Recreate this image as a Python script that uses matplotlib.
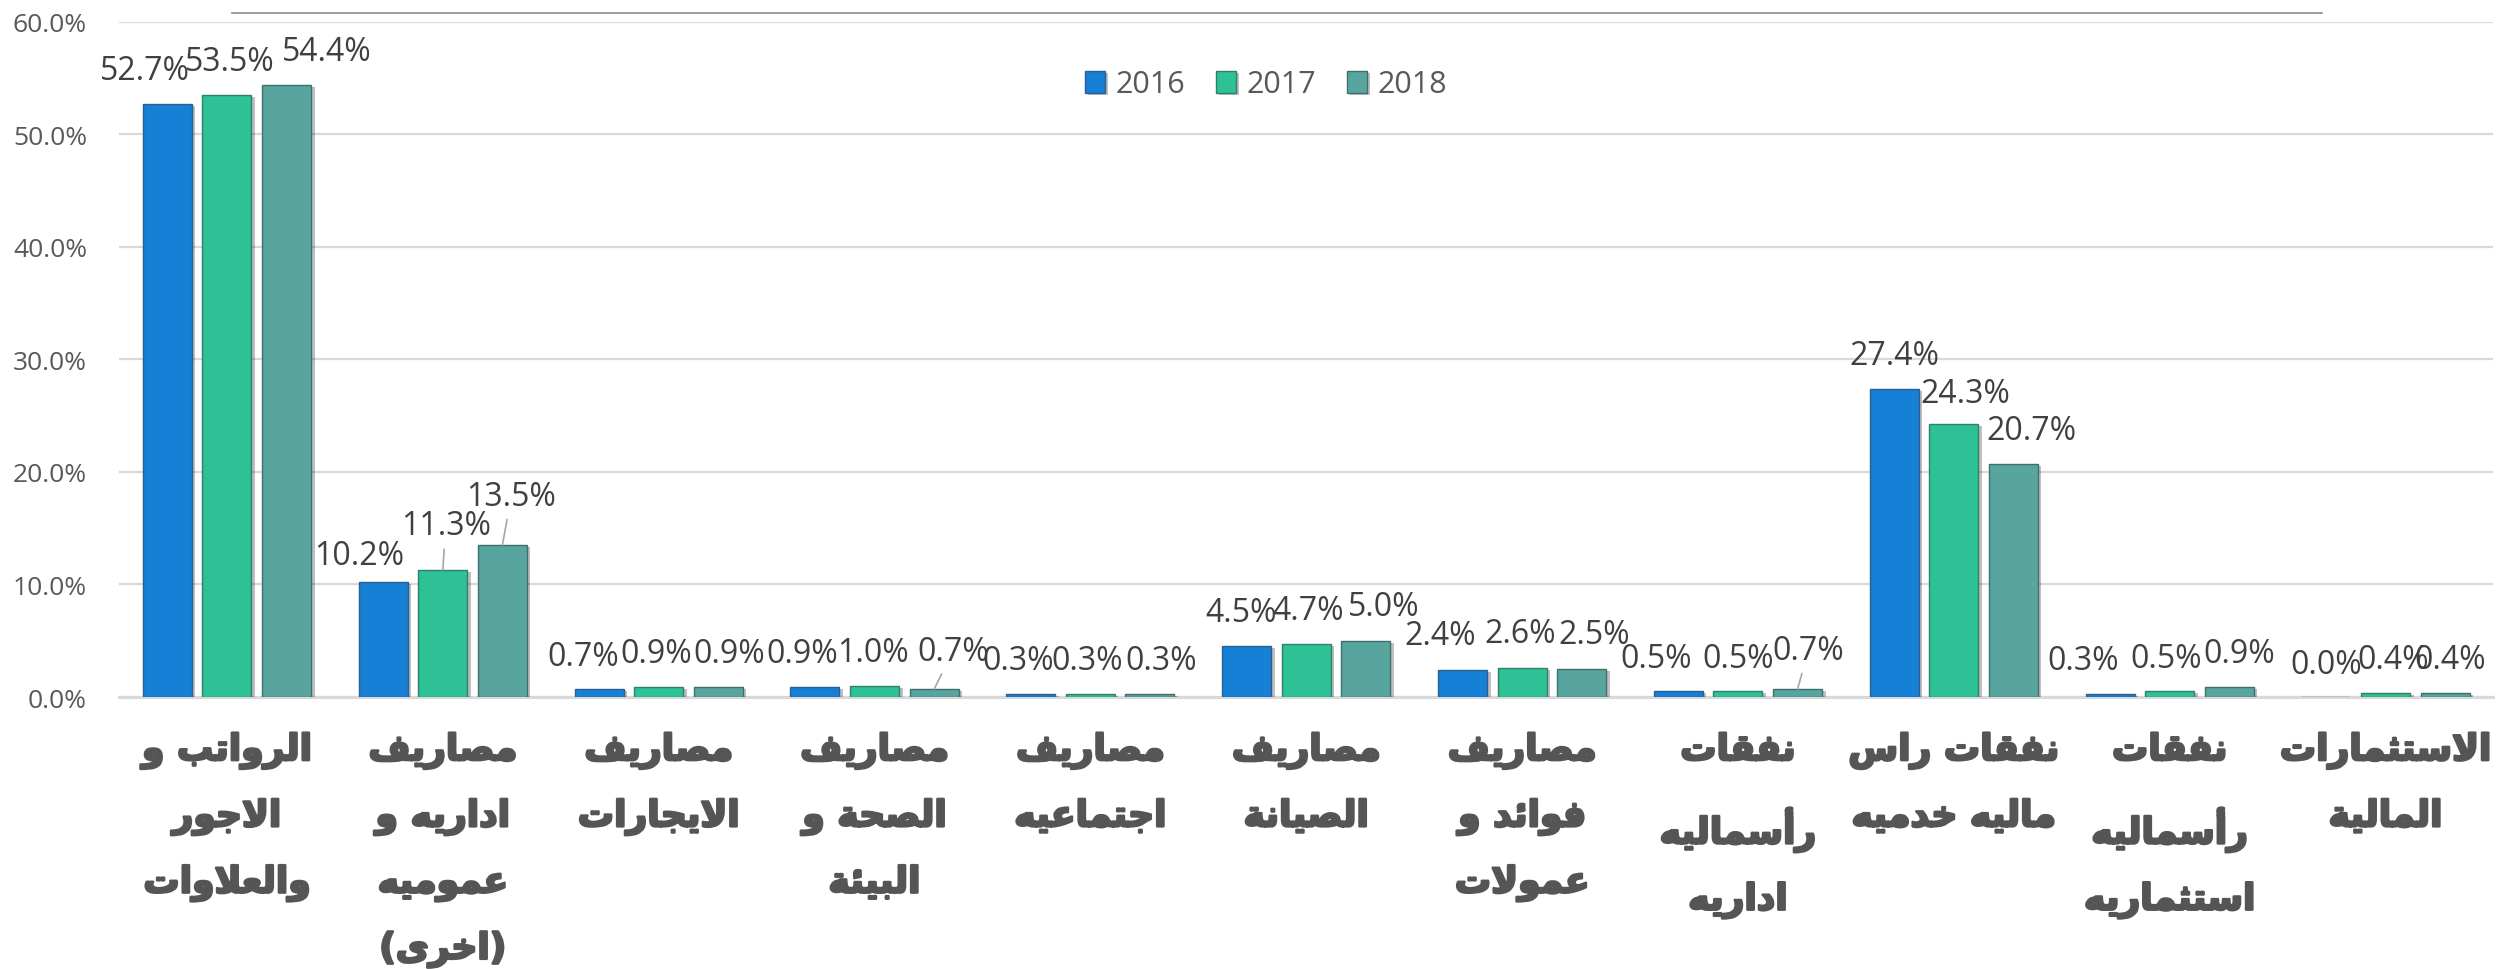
import numpy as np
import matplotlib
matplotlib.use("Agg")
import matplotlib.pyplot as plt
from matplotlib.lines import Line2D
from matplotlib import patheffects as pe

# ---- data -------------------------------------------------------------
categories = [
    "الرواتب و\nالاجور\nوالعلاوات",
    "مصاريف\nاداريه و\nعموميه\n(اخرى)",
    "مصاريف\nالايجارات",
    "مصاريف\nالصحة و\nالبيئة",
    "مصاريف\nاجتماعيه",
    "مصاريف\nالصيانة",
    "مصاريف\nفوائد و\nعمولات",
    "نفقات\nرأسماليه\nاداريه",
    "نفقات راس\nماليه خدميه",
    "نفقات\nرأسماليه\nاستثماريه",
    "الاستثمارات\nالمالية",
]
years = ["2016", "2017", "2018"]
share_2016 = [52.7, 10.2, 0.7, 0.9, 0.3, 4.5, 2.4, 0.5, 27.4, 0.3, 0.0]
share_2017 = [53.5, 11.3, 0.9, 1.0, 0.3, 4.7, 2.6, 0.5, 24.3, 0.5, 0.4]
share_2018 = [54.4, 13.5, 0.9, 0.7, 0.3, 5.0, 2.5, 0.7, 20.7, 0.9, 0.4]
yticks = [0, 10, 20, 30, 40, 50, 60]

# label placement (pixels, relative to bar top) as laid out in the original
label_dx = [
    [-22, -24, -16, -13, -13, -6, -22, -22, 0, -27, 0],
    [3, 3, -2, -2, -3, 2, -2, 0, 11, -3, 8],
    [40, 9, 11, 19, 11, 18, 13, 11, 18, 10, 5],
]
label_dy = [
    [33, 27, 33, 33, 33, 34, 34, 33, 33, 33, 33],
    [33, 44, 33, 33, 33, 34, 34, 33, 30, 33, 33],
    [33, 49, 33, 38, 33, 34, 34, 39, 34, 33, 33],
]
leaders = [(1, 1), (2, 1), (2, 3), (2, 7)]

colors = ["#1580d6", "#2ec196", "#58a49e"]
edges = ["#2a5f8f", "#2f7f6a", "#3f6f6b"]


# ---- minimal arabic shaping (presentation forms + visual order) --------
dual = {"ئ": 0xFE89, "ب": 0xFE8F, "ت": 0xFE95, "ث": 0xFE99, "ج": 0xFE9D,
        "ح": 0xFEA1, "خ": 0xFEA5, "س": 0xFEB1, "ش": 0xFEB5, "ص": 0xFEB9,
        "ض": 0xFEBD, "ط": 0xFEC1, "ظ": 0xFEC5, "ع": 0xFEC9, "غ": 0xFECD,
        "ف": 0xFED1, "ق": 0xFED5, "ك": 0xFED9, "ل": 0xFEDD, "م": 0xFEE1,
        "ن": 0xFEE5, "ه": 0xFEE9, "ي": 0xFEF1}
right = {"آ": 0xFE81, "أ": 0xFE83, "ؤ": 0xFE85, "إ": 0xFE87, "ا": 0xFE8D,
         "ة": 0xFE93, "د": 0xFEA9, "ذ": 0xFEAB, "ر": 0xFEAD, "ز": 0xFEAF,
         "و": 0xFEED, "ى": 0xFEEF}
lamalef = {"ا": 0xFEFB, "أ": 0xFEF7, "إ": 0xFEF9, "آ": 0xFEF5}


def shape_line(s):
    units = []
    i = 0
    while i < len(s):
        if s[i] == "ل" and i + 1 < len(s) and s[i + 1] in lamalef:
            units.append(("LA", s[i + 1]))
            i += 2
        else:
            units.append(("C", s[i]))
            i += 1

    def joins_next(u):
        return u[0] == "C" and u[1] in dual

    def joins_prev(u):
        return u[0] == "LA" or u[1] in dual or u[1] in right

    out = []
    for k, u in enumerate(units):
        jp = k > 0 and joins_next(units[k - 1]) and joins_prev(u)
        jn = (k + 1 < len(units) and joins_next(u)
              and joins_prev(units[k + 1]))
        t, c = u
        if t == "LA":
            out.append(chr(lamalef[c] + (1 if jp else 0)))
        elif c in dual:
            off = 3 if (jp and jn) else 1 if jp else 2 if jn else 0
            out.append(chr(dual[c] + off))
        elif c in right:
            out.append(chr(right[c] + (1 if jp else 0)))
        elif c == "ء":
            out.append(chr(0xFE80))
        else:
            out.append(c)
    vis = "".join(reversed(out))
    return vis.translate(str.maketrans("()", ")("))


def shape(s):
    return "\n".join(shape_line(x) for x in s.split("\n"))


# ---- plot ----------------------------------------------------------------
fig = plt.figure(figsize=(25.06, 9.70), dpi=100)
ax = fig.add_axes([0.0475, 0.2804, 0.9475, 0.6962])

x = np.arange(len(categories))
width = 0.227
step = 0.276
series = [share_2016, share_2017, share_2018]
shadow = [pe.SimplePatchShadow(offset=(2.5, -1.5), shadow_rgbFace="black",
                               alpha=0.25), pe.Normal()]

for j, vals in enumerate(series):
    xs = x + (j - 1) * step
    ax.bar(xs, vals, width, color=colors[j], edgecolor=edges[j],
           linewidth=1.0, label=years[j], zorder=3, path_effects=shadow)
    for i, v in enumerate(vals):
        txt = "{:.1f}%".format(v)
        arrow = None
        if (j, i) in leaders:
            arrow = dict(arrowstyle="-", color="#a6a6a6", lw=1.2,
                         shrinkA=3, shrinkB=0)
        ax.annotate(txt, xy=(xs[i], v),
                    xytext=(label_dx[j][i], label_dy[j][i]),
                    textcoords="offset pixels", ha="center", va="center",
                    fontsize=23, family="Open Sans", color="#404040",
                    zorder=5, arrowprops=arrow)

ax.set_xlim(-0.5, len(categories) - 0.5)
ax.set_ylim(0, 60)
ax.set_yticks(yticks)
ax.set_yticklabels(["{:.1f}%".format(t) for t in yticks],
                   family="Open Sans", fontsize=19, color="#595959")
ax.yaxis.grid(True, color="#d9d9d9", linewidth=1.6, zorder=0)
ax.set_axisbelow(True)
ax.tick_params(axis="y", length=0, pad=23)
ax.tick_params(axis="x", length=0, pad=26)
for s in ["top", "right", "left"]:
    ax.spines[s].set_visible(False)
ax.spines["bottom"].set_color("#d9d9d9")
ax.spines["bottom"].set_linewidth(2.2)

ax.set_xticks(x)
ax.set_xticklabels([shape(c) for c in categories], family="DejaVu Sans",
                   fontweight="bold", fontsize=26, color="#555555",
                   linespacing=2.12, va="top")
for t in ax.get_xticklabels():
    t.set_path_effects([pe.withStroke(linewidth=1.8, foreground="#555555")])

leg = ax.legend(loc="center", bbox_to_anchor=(0.5052, 0.912),
                bbox_transform=fig.transFigure, ncol=3, frameon=False,
                prop={"family": "Open Sans", "size": 22},
                handlelength=0.65, handleheight=0.72, handletextpad=0.36,
                columnspacing=1.0)
for t in leg.get_texts():
    t.set_color("#595959")

fig.add_artist(Line2D([232 / 2506, 2322 / 2506], [1 - 14 / 970, 1 - 14 / 970],
                      color="#8c8c8c", linewidth=1.2))

fig.savefig("out.png", dpi=100, facecolor="white")
plt.close(fig)
